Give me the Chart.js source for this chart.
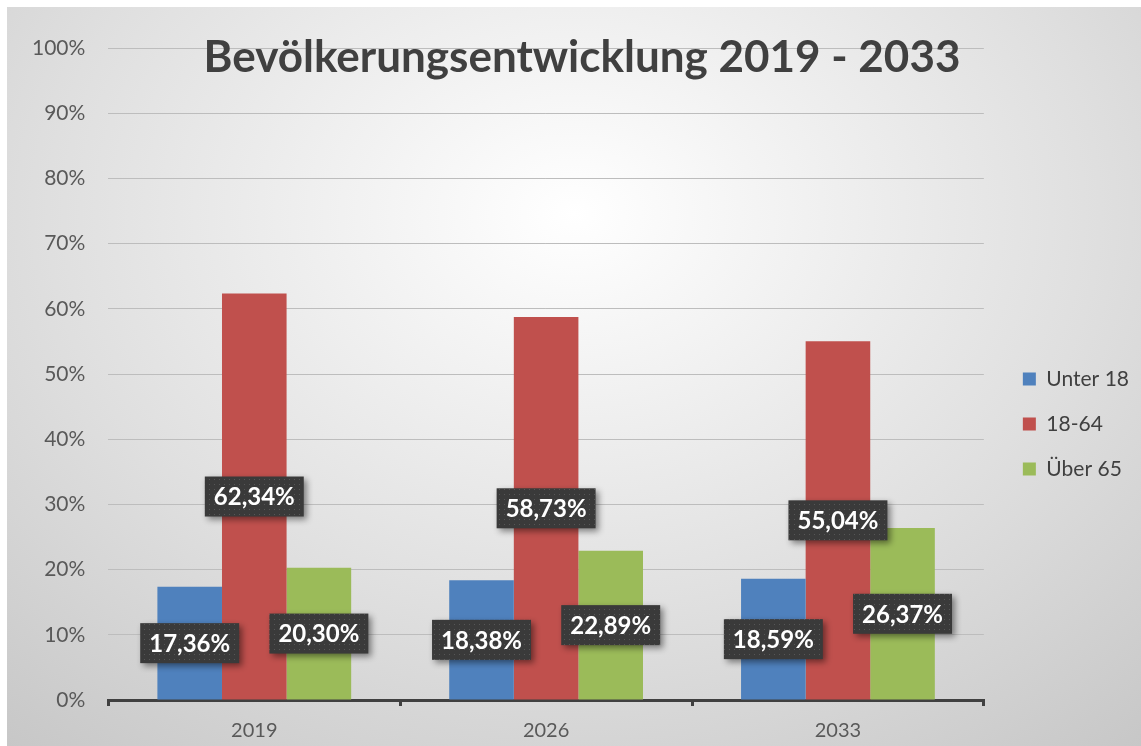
<!DOCTYPE html>
<html><head><meta charset="utf-8">
<script src="https://cdn.jsdelivr.net/npm/chart.js@4.4.1/dist/chart.umd.min.js"></script>
<style>
html,body{margin:0;padding:0;background:#fff;width:1141px;height:746px;overflow:hidden;}
#wrap{position:absolute;left:7px;top:7px;width:1134px;height:739px;
background:radial-gradient(ellipse 80% 95% at 50% 28%, #ffffff 0%, #f3f3f3 22%, #dfdfdf 58%, #c6c6c6 100%);}
</style></head><body>
<div id="wrap"><canvas id="c" width="1134" height="739"></canvas></div>
<script>
const categories = ['2019', '2026', '2033'];
const seriesNames = ['Unter 18', '18-64', 'Über 65'];
const unter18 = [17.36, 18.38, 18.59];
const mittel = [62.34, 58.73, 55.04];
const ueber65 = [20.30, 22.89, 26.37];
const seriesColors = ['#4F81BD', '#C0504D', '#9BBB59'];
const titleText = 'Bevölkerungsentwicklung 2019 - 2033';

function fmt(v){ return v.toFixed(2).replace('.', ',') + '%'; }

function makePattern(ctx){
  const p = document.createElement('canvas'); p.width = 5; p.height = 5;
  const c = p.getContext('2d');
  c.fillStyle = '#3a3a3a'; c.fillRect(0,0,5,5);
  c.fillStyle = '#575757'; c.fillRect(2,2,1,1);
  return ctx.createPattern(p, 'repeat');
}

const titlePlugin = {
  id: 'overlayTitle',
  afterDraw(chart){
    const ctx = chart.ctx;
    ctx.save();
    ctx.font = 'bold 44px Lato';
    ctx.fillStyle = '#404040';
    ctx.textAlign = 'center';
    ctx.textBaseline = 'alphabetic';
    ctx.fillText(titleText, 575, 65);
    ctx.restore();
  }
};

const labelPlugin = {
  id: 'boxLabels',
  afterDatasetsDraw(chart){
    const ctx = chart.ctx;
    const pattern = makePattern(ctx);
    ctx.save();
    ctx.font = 'bold 24px Lato';
    chart.data.datasets.forEach((ds, i) => {
      const meta = chart.getDatasetMeta(i);
      meta.data.forEach((bar, j) => {
        const txt = fmt(ds.data[j]);
        const w = ctx.measureText(txt).width + 18, h = 40;
        const cx = bar.x, cy = (bar.y + bar.base) / 2;
        ctx.save();
        ctx.shadowColor = 'rgba(0,0,0,0.45)';
        ctx.shadowBlur = 6; ctx.shadowOffsetX = 3; ctx.shadowOffsetY = 3;
        ctx.fillStyle = pattern;
        ctx.fillRect(cx - w/2, cy - h/2, w, h);
        ctx.restore();
        ctx.fillStyle = '#ffffff';
        ctx.textAlign = 'center';
        ctx.textBaseline = 'middle';
        ctx.fillText(txt, cx, cy + 1);
      });
    });
    ctx.restore();
  }
};

function build(){
  Chart.defaults.font.family = 'Lato';
  new Chart(document.getElementById('c'), {
    type: 'bar',
    data: {
      labels: categories,
      datasets: [
        {label: seriesNames[0], data: unter18, backgroundColor: seriesColors[0], borderWidth: 0},
        {label: seriesNames[1], data: mittel, backgroundColor: seriesColors[1], borderWidth: 0},
        {label: seriesNames[2], data: ueber65, backgroundColor: seriesColors[2], borderWidth: 0}
      ]
    },
    options: {
      responsive: false,
      animation: false,
      layout: {padding: {top: 41, bottom: 0, left: 2, right: 2}},
      datasets: {bar: {categoryPercentage: 0.664, barPercentage: 1}},
      scales: {
        x: {
          grid: {display: true, drawOnChartArea: false, drawTicks: true, tickLength: 6, color: '#404040', lineWidth: 3, offset: true},
          border: {display: true, color: '#404040', width: 3},
          ticks: {color: '#595959', font: {size: 20}, padding: 13},
          afterFit(scale){ scale.height = 46; }
        },
        y: {
          min: 0, max: 100,
          grid: {color: '#bdbdbd', lineWidth: 1, drawTicks: false},
          border: {display: false},
          ticks: {stepSize: 10, color: '#595959', font: {size: 21}, padding: 23, callback: v => v + '%'}
        },
        ySpace: {
          position: 'right', display: true,
          grid: {display: false}, border: {display: false},
          ticks: {display: false},
          afterFit(scale){ scale.width = 15; }
        }
      },
      plugins: {
        title: {display: false},
        tooltip: {enabled: false},
        legend: {
          position: 'right',
          align: 'center',
          title: {display: true, text: '', font: {size: 10}, padding: {top: 0, bottom: 42}},
          labels: {color: '#404040', font: {size: 21}, boxWidth: 13, boxHeight: 13, padding: 24}
        }
      }
    },
    plugins: [labelPlugin, titlePlugin]
  });
}
Promise.all([
  document.fonts.load('bold 44px Lato'),
  document.fonts.load('bold 24px Lato'),
  document.fonts.load('21px Lato')
]).then(build, build);
</script>
</body></html>
